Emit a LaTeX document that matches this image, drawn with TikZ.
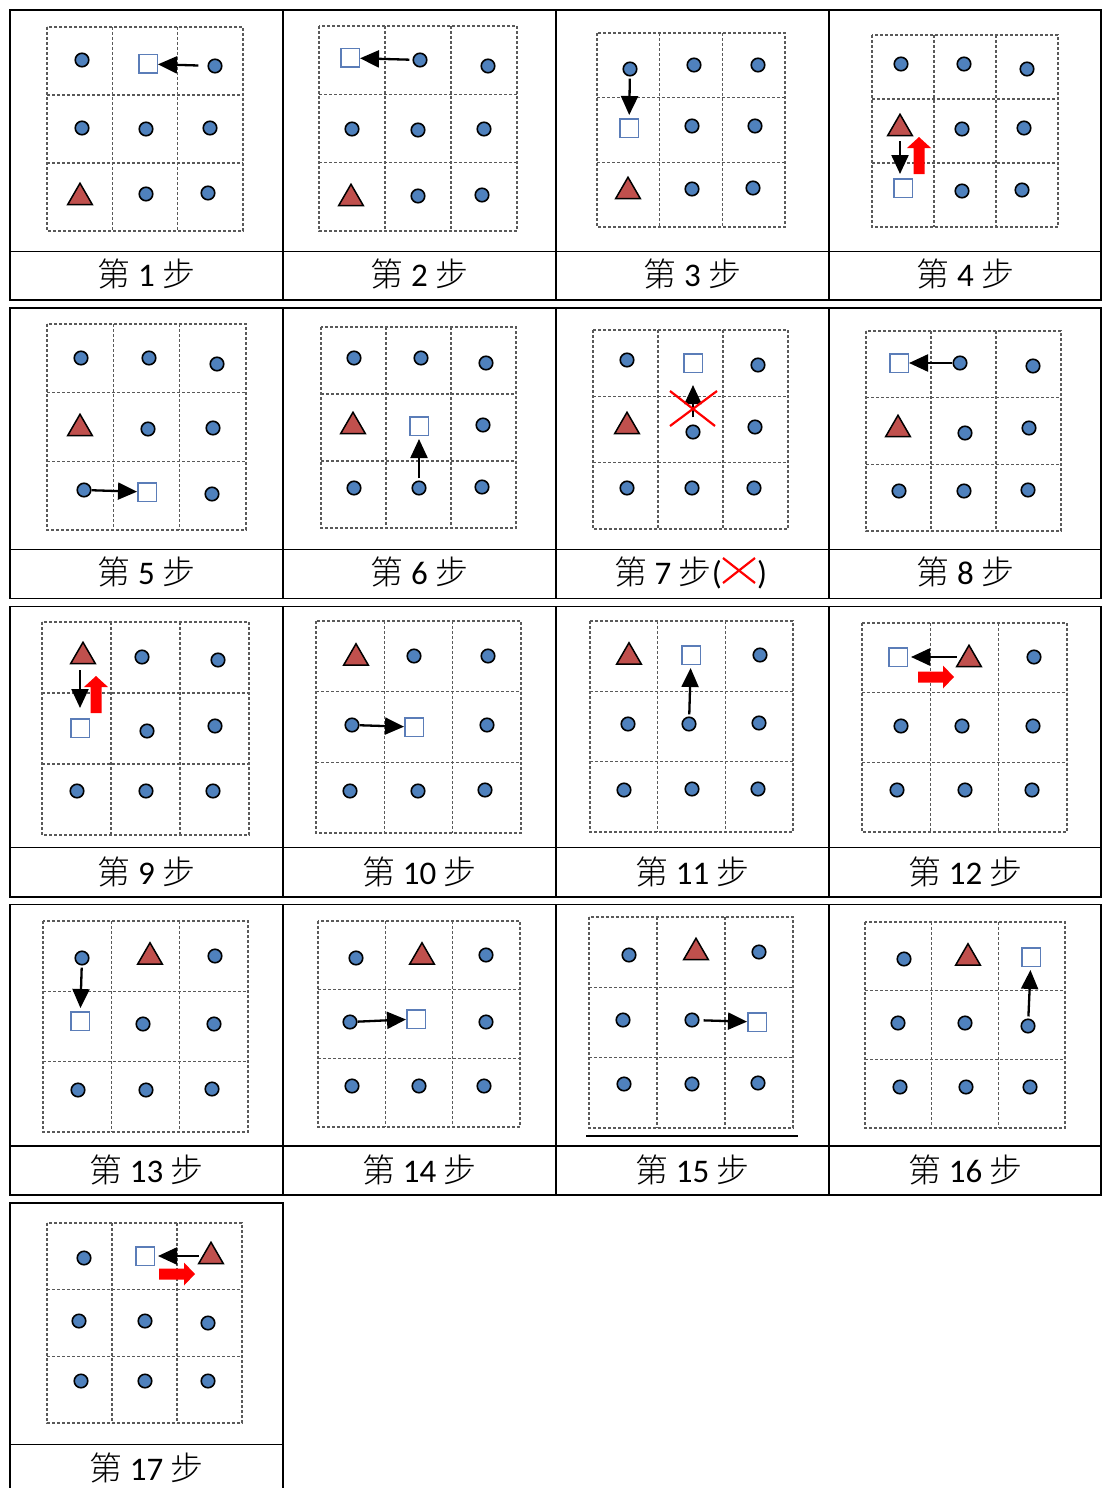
\documentclass[tikz,border=0pt]{standalone}
\usepackage{fontspec}
\setmainfont{Carlito}
\IfFontExistsTF{Noto Sans CJK SC Light}{\newfontfamily\cjk{Noto Sans CJK SC Light}}{\newfontfamily\cjk{Noto Sans CJK SC}}
\usetikzlibrary{arrows.meta,shapes.geometric}
\definecolor{dotblue}{HTML}{4F81BD}
\definecolor{trired}{HTML}{C0504D}
\definecolor{sqblue}{HTML}{5B7DB8}
\tikzset{
  tab/.style={line width=1.9pt, draw=black},
  gridl/.style={dash pattern=on 3pt off 2pt, line width=1.2pt, draw=black!65},
  dot/.style={circle, draw=black, fill=dotblue, line width=1.6pt, minimum size=13.5pt, inner sep=0pt},
  sq/.style={rectangle, draw=sqblue, fill=white, line width=1.5pt, minimum size=18.5pt, inner sep=0pt},
  tri/.style={regular polygon, regular polygon sides=3, draw=black, fill=trired, line width=1.5pt, minimum size=28.5pt, inner sep=0pt},
  blk/.style={line width=2.3pt, draw=black, -{Triangle[length=19pt,width=17pt]}},
  capt/.style={anchor=base, inner sep=0pt, font=\fontsize{33}{40}\selectfont},
  redx/.style={draw=red, line width=2.2pt},
  redup/.pic={\fill[red] (-5.5,0) -- (-5.5,-26) -- (-12,-26) -- (0,-37) -- (12,-26) -- (5.5,-26) -- (5.5,0) -- cycle;},
  redright/.pic={\fill[red] (0,-5.5) -- (25,-5.5) -- (25,-11.5) -- (36,0) -- (25,11.5) -- (25,5.5) -- (0,5.5) -- cycle;}
}
\newcommand\dgrid[4]{%
  \draw[gridl] (#1,#2) rectangle (#3,#4);
  \foreach \t in {1,2}{%
    \draw[gridl] ({#1+(#3-#1)*\t/3},#2) -- ({#1+(#3-#1)*\t/3},#4);
    \draw[gridl] (#1,{#2+(#4-#2)*\t/3}) -- (#3,{#2+(#4-#2)*\t/3});
  }}
\newcommand\tablerow[3]{%
  \draw[tab] (10,#1) rectangle (1101,#3);
  \draw[tab] (10,#2) -- (1101,#2);
  \foreach \xx in {283,556,829}{\draw[tab] (\xx,#1) -- (\xx,#3);}
}
\begin{document}
\begin{tikzpicture}[x=1pt,y=-1pt]
\useasboundingbox (0,0) rectangle (1104,1488);
\fill[white] (0,0) rectangle (1104,1488);
% table
\tablerow{10}{251.5}{300}
\tablerow{308}{549.5}{598.5}
\tablerow{606.5}{847.5}{897}
\tablerow{904.5}{1146}{1195}
\draw[tab] (10,1495) -- (10,1203) -- (283,1203) -- (283,1495);
\draw[tab] (10,1444.5) -- (283,1444.5);
% grids
\dgrid{47}{27}{243}{231}
\dgrid{319}{26}{517}{231}
\dgrid{597}{33}{785}{227}
\dgrid{872}{35}{1058}{227}
\dgrid{47}{324}{246}{530}
\dgrid{321}{327}{516}{528}
\dgrid{593}{330}{788}{529}
\dgrid{866}{331}{1061}{531}
\dgrid{42}{622}{249}{835}
\dgrid{316}{621}{521}{833}
\dgrid{590}{621}{793}{832}
\dgrid{862}{623}{1067}{832}
\dgrid{43}{921}{248}{1132}
\dgrid{318}{921}{520}{1127}
\dgrid{589}{917}{793}{1128}
\dgrid{865}{922}{1065}{1128}
\dgrid{47}{1223}{242}{1423}
% cell 1
\node[dot] (a1) at (82,60) {};
\node[sq]  (a2) at (148,64) {};
\node[dot] (a3) at (215,66) {};
\node[dot] (a4) at (82,128) {};
\node[dot] (a5) at (146,129) {};
\node[dot] (a6) at (210,128) {};
\node[tri] (a7) at (80,197.5) {};
\node[dot] (a8) at (146,194) {};
\node[dot] (a9) at (208,193) {};
\draw[blk, shorten <=9pt] (a3) -- (a2);
% cell 2
\node[sq]  (b1) at (350,58) {};
\node[dot] (b2) at (420,60) {};
\node[dot] (b3) at (488,66) {};
\node[dot] (b4) at (352,129) {};
\node[dot] (b5) at (418,130) {};
\node[dot] (b6) at (484,129) {};
\node[tri] (b7) at (351,198.5) {};
\node[dot] (b8) at (418,196) {};
\node[dot] (b9) at (482,195) {};
\draw[blk, shorten <=3pt] (b2) -- (b1);
% cell 3
\node[dot] (c1) at (630,69) {};
\node[dot] (c2) at (694,65) {};
\node[dot] (c3) at (758,65) {};
\node[sq]  (c4) at (629,128) {};
\node[dot] (c5) at (692,126) {};
\node[dot] (c6) at (755,126) {};
\node[tri] (c7) at (628,191.5) {};
\node[dot] (c8) at (692,189) {};
\node[dot] (c9) at (753,188) {};
\draw[blk, shorten <=2pt, shorten >=3pt] (c1) -- (c4);
% cell 4
\node[dot] (d1) at (901,64) {};
\node[dot] (d2) at (964,64) {};
\node[dot] (d3) at (1027,69) {};
\node[tri] (d4) at (900,128.5) {};
\node[dot] (d5) at (962,129) {};
\node[dot] (d6) at (1024,128) {};
\node[sq]  (d7) at (903,188) {};
\node[dot] (d8) at (962,191) {};
\node[dot] (d9) at (1022,190) {};
\draw[blk, shorten <=5pt, shorten >=4pt] (d4.south -| d4.center) -- (d7.north -| d4.center);
\pic at (919,174) {redup};
% cell 5
\node[dot] (e1) at (81,358) {};
\node[dot] (e2) at (149,358) {};
\node[dot] (e3) at (217,364) {};
\node[tri] (e4) at (80,428.5) {};
\node[dot] (e5) at (148,429) {};
\node[dot] (e6) at (213,428) {};
\node[dot] (e7) at (84,490) {};
\node[sq]  (e8) at (147,492) {};
\node[dot] (e9) at (212,494) {};
\draw[blk] (e7) -- (e8);
% cell 6
\node[dot] (f1) at (354,358) {};
\node[dot] (f2) at (421,358) {};
\node[dot] (f3) at (486,363) {};
\node[tri] (f4) at (353,426.5) {};
\node[sq]  (f5) at (419,426) {};
\node[dot] (f6) at (483,425) {};
\node[dot] (f7) at (354,488) {};
\node[dot] (f8) at (419,488) {};
\node[dot] (f9) at (482,487) {};
\draw[blk, shorten <=2pt, shorten >=3pt] (f8) -- (f5);
% cell 7
\node[dot] (g1) at (627,360) {};
\node[sq]  (g2) at (693,363) {};
\node[dot] (g3) at (758,365) {};
\node[tri] (g4) at (627,426.5) {};
\node[dot] (g5) at (693,432) {};
\node[dot] (g6) at (755,427) {};
\node[dot] (g7) at (627,488) {};
\node[dot] (g8) at (692,488) {};
\node[dot] (g9) at (754,488) {};
\draw[blk, shorten <=7pt, shorten >=12pt] (g5) -- (g2);
\draw[redx] (670,391) -- (715,426) (670,426) -- (717,391);
% cell 8
\node[sq]  (h1) at (899,363) {};
\node[dot] (h2) at (960,363) {};
\node[dot] (h3) at (1033,366) {};
\node[tri] (h4) at (898,429.5) {};
\node[dot] (h5) at (965,433) {};
\node[dot] (h6) at (1029,428) {};
\node[dot] (h7) at (899,491) {};
\node[dot] (h8) at (964,491) {};
\node[dot] (h9) at (1028,490) {};
\draw[blk] (h2) -- (h1);
% cell 9
\node[tri] (i1) at (83,656.5) {};
\node[dot] (i2) at (142,657) {};
\node[dot] (i3) at (218,660) {};
\node[sq]  (i4) at (80,728) {};
\node[dot] (i5) at (147,731) {};
\node[dot] (i6) at (215,726) {};
\node[dot] (i7) at (77,791) {};
\node[dot] (i8) at (146,791) {};
\node[dot] (i9) at (213,791) {};
\draw[blk, shorten <=6pt, shorten >=10pt] (i1.south -| i4.center) -- (i4.north -| i4.center);
\pic at (96,713) {redup};
% cell 10
\node[tri] (j1) at (356,658) {};
\node[dot] (j2) at (414,656) {};
\node[dot] (j3) at (488,656) {};
\node[dot] (j4) at (352,725) {};
\node[sq]  (j5) at (414,727) {};
\node[dot] (j6) at (487,725) {};
\node[dot] (j7) at (350,791) {};
\node[dot] (j8) at (418,791) {};
\node[dot] (j9) at (485,790) {};
\draw[blk] (j4) -- (j5);
% cell 11
\node[tri] (k1) at (629,657) {};
\node[sq]  (k2) at (691,655) {};
\node[dot] (k3) at (760,655) {};
\node[dot] (k4) at (628,724) {};
\node[dot] (k5) at (689,724) {};
\node[dot] (k6) at (759,723) {};
\node[dot] (k7) at (624,790) {};
\node[dot] (k8) at (692,789) {};
\node[dot] (k9) at (758,789) {};
\draw[blk, shorten <=2pt, shorten >=3pt] (k5) -- (k2);
% cell 12
\node[sq]  (l1) at (898,657) {};
\node[tri] (l2) at (969,659.5) {};
\node[dot] (l3) at (1034,657) {};
\node[dot] (l4) at (901,726) {};
\node[dot] (l5) at (962,726) {};
\node[dot] (l6) at (1033,726) {};
\node[dot] (l7) at (897,790) {};
\node[dot] (l8) at (965,790) {};
\node[dot] (l9) at (1032,790) {};
\draw[blk, shorten <=3pt, shorten >=3pt] (l2.west |- l1.center) -- (l1.east);
\pic at (918,677) {redright};
% cell 13
\node[dot] (m1) at (82,958) {};
\node[tri] (m2) at (150,957) {};
\node[dot] (m3) at (215,956) {};
\node[sq]  (m4) at (80,1021) {};
\node[dot] (m5) at (143,1024) {};
\node[dot] (m6) at (214,1024) {};
\node[dot] (m7) at (78,1090) {};
\node[dot] (m8) at (146,1090) {};
\node[dot] (m9) at (212,1089) {};
\draw[blk, shorten <=2pt, shorten >=3pt] (m1) -- (m4);
% cell 14
\node[dot] (n1) at (356,958) {};
\node[tri] (n2) at (422,957) {};
\node[dot] (n3) at (486,955) {};
\node[dot] (n4) at (350,1022) {};
\node[sq]  (n5) at (416,1019) {};
\node[dot] (n6) at (486,1022) {};
\node[dot] (n7) at (352,1086) {};
\node[dot] (n8) at (419,1086) {};
\node[dot] (n9) at (484,1086) {};
\draw[blk] (n4) -- (n5);
% cell 15
\node[dot] (o1) at (629,955) {};
\node[tri] (o2) at (696,952.5) {};
\node[dot] (o3) at (759,952) {};
\node[dot] (o4) at (623,1020) {};
\node[dot] (o5) at (692,1020) {};
\node[sq]  (o6) at (757,1022) {};
\node[dot] (o7) at (624,1084) {};
\node[dot] (o8) at (692,1084) {};
\node[dot] (o9) at (758,1083) {};
\draw[blk, shorten <=4pt] (o5) -- (o6);
\draw[line width=1.3pt] (586,1136) -- (798,1136);
% cell 16
\node[dot] (p1) at (904,959) {};
\node[tri] (p2) at (968,958) {};
\node[sq]  (p3) at (1031,957) {};
\node[dot] (p4) at (898,1023) {};
\node[dot] (p5) at (965,1023) {};
\node[dot] (p6) at (1028,1026) {};
\node[dot] (p7) at (900,1087) {};
\node[dot] (p8) at (966,1087) {};
\node[dot] (p9) at (1030,1087) {};
\draw[blk, shorten <=2pt, shorten >=3pt] (p6) -- (p3);
% cell 17
\node[dot] (q1) at (84,1258) {};
\node[sq]  (q2) at (145,1256) {};
\node[tri] (q3) at (211,1256.5) {};
\node[dot] (q4) at (79,1321) {};
\node[dot] (q5) at (145,1321) {};
\node[dot] (q6) at (208,1323) {};
\node[dot] (q7) at (81,1381) {};
\node[dot] (q8) at (145,1381) {};
\node[dot] (q9) at (208,1381) {};
\draw[blk, shorten <=3pt, shorten >=3pt] (q3.west |- q2.center) -- (q2.east);
\pic at (159,1274) {redright};
% captions
\node[capt] (t1) at (146.5,286) {{\cjk 第} 1 {\cjk 步}};
\node[capt] (t2) at (419.5,286) {{\cjk 第} 2 {\cjk 步}};
\node[capt] (t3) at (692.5,286) {{\cjk 第} 3 {\cjk 步}};
\node[capt] (t4) at (965.5,286) {{\cjk 第} 4 {\cjk 步}};
\node[capt] (t5) at (146.5,584.5) {{\cjk 第} 5 {\cjk 步}};
\node[capt] (t6) at (419.5,584.5) {{\cjk 第} 6 {\cjk 步}};
\node[capt, anchor=base east] (t7) at (722,584.5) {{\cjk 第} 7 {\cjk 步}(};
\draw[redx] (723,558) -- (755,583) (723,583) -- (755,558);
\node[capt, anchor=base west] (t7b) at (757,584.5) {)};
\node[capt] (t8) at (965.5,584.5) {{\cjk 第} 8 {\cjk 步}};
\node[capt] (t9) at (146.5,884) {{\cjk 第} 9 {\cjk 步}};
\node[capt] (t10) at (419.5,884) {{\cjk 第} 10 {\cjk 步}};
\node[capt] (t11) at (692.5,884) {{\cjk 第} 11 {\cjk 步}};
\node[capt] (t12) at (965.5,884) {{\cjk 第} 12 {\cjk 步}};
\node[capt] (t13) at (146.5,1182.5) {{\cjk 第} 13 {\cjk 步}};
\node[capt] (t14) at (419.5,1182.5) {{\cjk 第} 14 {\cjk 步}};
\node[capt] (t15) at (692.5,1182.5) {{\cjk 第} 15 {\cjk 步}};
\node[capt] (t16) at (965.5,1182.5) {{\cjk 第} 16 {\cjk 步}};
\node[capt] (t17) at (146.5,1480) {{\cjk 第} 17 {\cjk 步}};
\end{tikzpicture}
\end{document}
